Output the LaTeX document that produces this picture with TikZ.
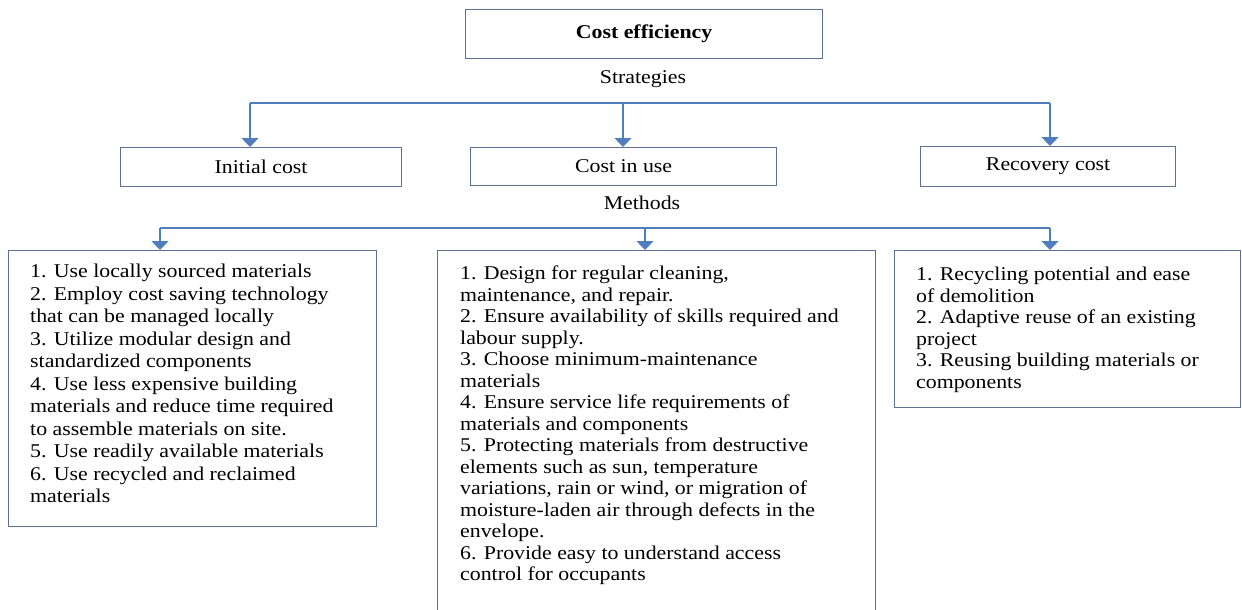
\documentclass[tikz,border=0pt]{standalone}
\usepackage{fontspec}
\setmainfont[FakeStretch=1.12]{Liberation Serif}
\usetikzlibrary{arrows.meta,calc}
\definecolor{linec}{RGB}{79,125,190}
\definecolor{boxc}{RGB}{92,112,150}
\tikzset{
  box/.style={draw=boxc, line width=1.2pt, inner sep=0pt, anchor=north west},
  lbl/.style={font=\fontsize{19.5}{22.5}\selectfont, inner sep=0pt},
  txt/.style={font=\fontsize{19.5}{22.5}\selectfont, align=left, inner sep=0pt, anchor=north west},
  txtb/.style={txt, font=\fontsize{19.5}{21.5}\selectfont},
  conn/.style={draw=linec, line width=1.3pt},
  arr/.style={conn, -{Triangle[width=17pt,length=9pt]}}
}
\begin{document}
\begin{tikzpicture}[x=1pt,y=-1pt]
\useasboundingbox (0,0) rectangle (1242,610);
% top
\node[box, minimum width=357pt, minimum height=49pt] (top) at (465,9) {};
\node[lbl, font=\bfseries\fontsize{19.5}{22.5}\selectfont] (toplbl) at (top.center) {Cost efficiency};
\node[lbl] (strat) at (643,79) {Strategies};
% level 1 boxes
\node[box, minimum width=281pt, minimum height=39pt] (ini) at (120,147) {};
\node[lbl] (inilbl) at (ini.center) {Initial cost};
\node[box, minimum width=306pt, minimum height=38pt] (use) at (470,147) {};
\node[lbl] (uselbl) at (use.center) {Cost in use};
\node[box, minimum width=255pt, minimum height=40pt] (rec) at (920,146) {};
\node[lbl] (reclbl) at (rec.center) {Recovery cost};
% connectors level 1
\coordinate (h1l) at (250,103);
\coordinate (h1m) at (623,103);
\coordinate (h1r) at (1050,103);
\draw[conn] (h1l) -- (h1r);
\draw[arr] (h1l) -- (h1l |- ini.north);
\draw[arr] (h1m) -- (h1m |- use.north);
\draw[arr] (h1r) -- (h1r |- rec.north);
\node[lbl] (meth) at (642,203) {Methods};
% level 2 boxes
\node[box, minimum width=368pt, minimum height=276pt] (lb) at (8,250) {};
\node[box, minimum width=438pt, minimum height=370pt] (mb) at (437,250) {};
\node[box, minimum width=346pt, minimum height=157pt] (rb) at (894,250) {};
\node[txt] (lbt) at (30,264) {1. Use locally sourced materials\\
2. Employ cost saving technology\\
that can be managed locally\\
3. Utilize modular design and\\
standardized components\\
4. Use less expensive building\\
materials and reduce time required\\
to assemble materials on site.\\
5. Use readily available materials\\
6. Use recycled and reclaimed\\
materials};
\node[txtb] (mbt) at (460,266) {1. Design for regular cleaning,\\
maintenance, and repair.\\
2. Ensure availability of skills required and\\
labour supply.\\
3. Choose minimum-maintenance\\
materials\\
4. Ensure service life requirements of\\
materials and components\\
5. Protecting materials from destructive\\
elements such as sun, temperature\\
variations, rain or wind, or migration of\\
moisture-laden air through defects in the\\
envelope.\\
6. Provide easy to understand access\\
control for occupants};
\node[txtb] (rbt) at (916,267) {1. Recycling potential and ease\\
of demolition\\
2. Adaptive reuse of an existing\\
project\\
3. Reusing building materials or\\
components};
% connectors level 2
\coordinate (h2l) at (160,228);
\coordinate (h2m) at (645,228);
\coordinate (h2r) at (1050,228);
\draw[conn] (h2l) -- (h2r);
\draw[arr] (h2l) -- (h2l |- lb.north);
\draw[arr] (h2m) -- (h2m |- mb.north);
\draw[arr] (h2r) -- (h2r |- rb.north);
\end{tikzpicture}
\end{document}
